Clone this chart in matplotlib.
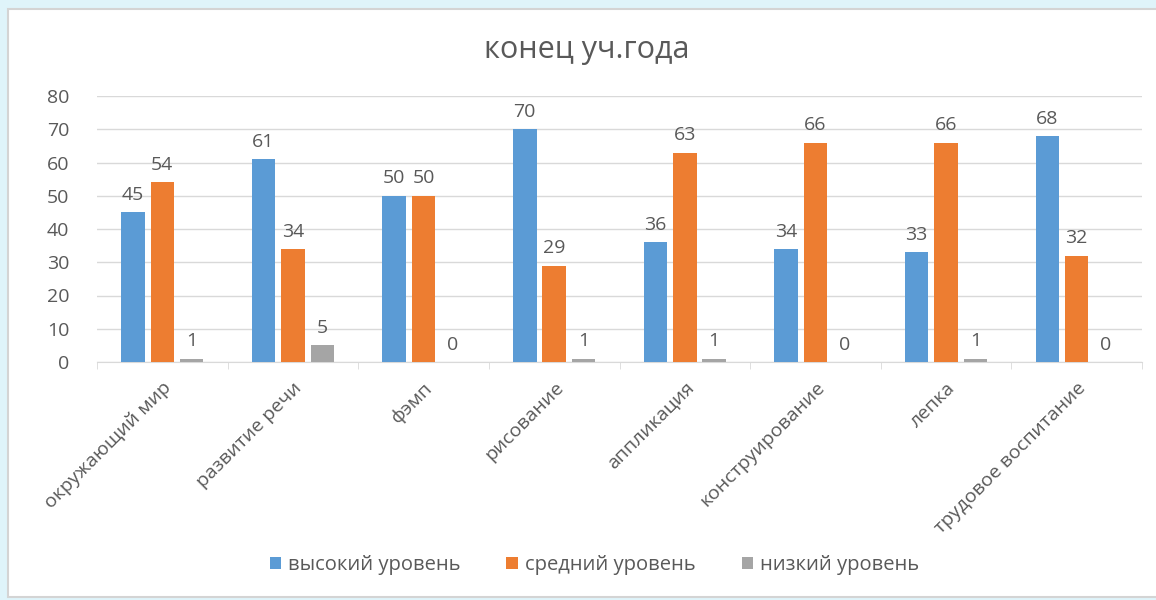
import numpy as np
import matplotlib
matplotlib.use('Agg')
import matplotlib.pyplot as plt
from matplotlib.patches import Rectangle

plt.rcParams['font.family'] = ['Open Sans', 'DejaVu Sans']

# data
categories = ['окружающий мир', 'развитие речи', 'фэмп', 'рисование',
              'аппликация', 'конструирование', 'лепка', 'трудовое воспитание']
high = [45, 61, 50, 70, 36, 34, 33, 68]
mid = [54, 34, 50, 29, 63, 66, 66, 32]
low = [1, 5, 0, 1, 1, 0, 1, 0]
series_names = ['высокий уровень', 'средний уровень', 'низкий уровень']
colors = ['#5B9BD5', '#ED7D31', '#A5A5A5']
text_color = '#595959'

fig = plt.figure(figsize=(11.56, 6), dpi=100, facecolor='#dff4fa')

# white chart area with thin grey border
fig.patches.append(Rectangle((8 / 1156, 3 / 600), 1.0, 588 / 600,
                             transform=fig.transFigure, facecolor='white',
                             edgecolor='#d4d4d4', linewidth=1.5, zorder=-10))

ax = fig.add_axes([97 / 1156, 1 - 362 / 600, (1142 - 97) / 1156, (362 - 96) / 600])
ax.set_facecolor('none')
ax.set_zorder(5)

x = np.arange(len(categories))
width = 0.18
offset = 0.225

for i, (vals, name) in enumerate(zip([high, mid, low], series_names)):
    bars = ax.bar(x + (i - 1) * offset, vals, width, color=colors[i], label=name, zorder=3)
    ax.bar_label(bars, padding=6, fontsize=14, color=text_color)

ax.set_ylim(0, 80)
ax.set_xlim(-0.5, len(categories) - 0.5)
ax.set_yticks(range(0, 81, 10))
ax.yaxis.grid(True, color='#d9d9d9', linewidth=1, zorder=0)
ax.tick_params(axis='y', length=0, pad=20, labelsize=14, labelcolor=text_color)

for s in ['top', 'right', 'left']:
    ax.spines[s].set_visible(False)
ax.spines['bottom'].set_color('#d9d9d9')

ax.set_xticks(x)
ax.set_xticklabels(categories, rotation=45, ha='right', rotation_mode='anchor',
                   fontsize=14, color=text_color)
ax.tick_params(axis='x', which='major', length=0, pad=12)
ax.set_xticks(np.arange(-0.5, len(categories)), minor=True)
ax.tick_params(axis='x', which='minor', length=5, color='#d9d9d9')

fig.text(0.508, 1 - 50 / 600, 'конец уч.года', ha='center', va='center',
         fontsize=22, color=text_color)

fig.legend(loc='center', bbox_to_anchor=(0.514, 1 - 565 / 600), ncol=3,
           frameon=False, fontsize=14.5, handlelength=0.55, handleheight=0.55,
           handletextpad=0.35, columnspacing=2.3, labelcolor=text_color)

fig.savefig('out.png', dpi=100, facecolor=fig.get_facecolor())
